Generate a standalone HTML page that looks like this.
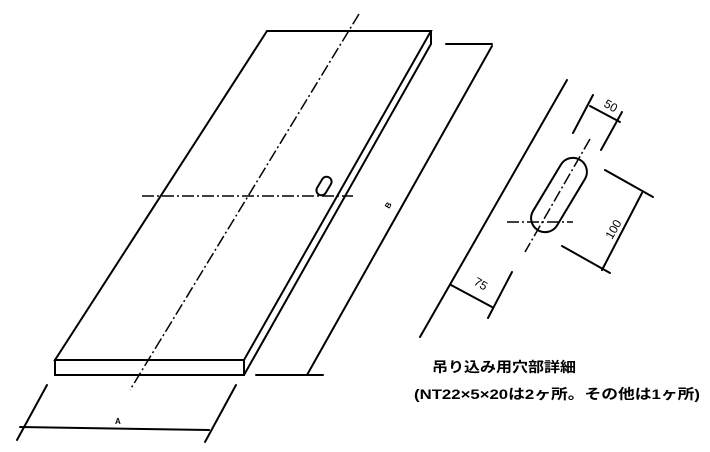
<!DOCTYPE html>
<html><head><meta charset="utf-8"><style>
html,body{margin:0;padding:0;background:#fff;width:710px;height:452px;overflow:hidden}
svg{display:block}
text{font-family:"Liberation Sans","Noto Sans CJK JP",sans-serif;fill:#000}
</style></head><body>
<svg width="710" height="452" viewBox="0 0 710 452" xmlns="http://www.w3.org/2000/svg">
<g stroke="#000" fill="none" stroke-width="2" stroke-linecap="round">
<!-- board -->
<polygon points="267,31 431,31 244,360 55,360"/>
<rect x="55" y="360" width="189" height="15"/>
<line x1="431" y1="31" x2="431" y2="44"/>
<line x1="431" y1="44" x2="244" y2="375"/>
<!-- B dimension -->
<line x1="446" y1="44" x2="492" y2="44"/>
<line x1="256" y1="375" x2="323" y2="375"/>
<line x1="492" y1="46" x2="307" y2="375"/>
<!-- A dimension -->
<line x1="47" y1="385" x2="17" y2="440"/>
<line x1="236" y1="385" x2="205" y2="442"/>
<line x1="20" y1="427" x2="209" y2="430"/>
<!-- small hole -->
<rect x="-5" y="-10" width="10" height="20" rx="5" transform="translate(324,186) rotate(31)"/>
<!-- right detail -->
<line x1="567" y1="80" x2="420" y2="337"/>
<rect x="-14" y="-41" width="28" height="82" rx="14" transform="translate(559,195) rotate(31)"/>
<line x1="593" y1="95" x2="573" y2="133"/>
<line x1="622" y1="112" x2="601" y2="150"/>
<line x1="590" y1="106" x2="620" y2="122"/>
<line x1="605" y1="170" x2="653" y2="197"/>
<line x1="562" y1="246" x2="610" y2="273"/>
<line x1="642" y1="193" x2="602" y2="270"/>
<line x1="512" y1="272" x2="488" y2="318"/>
<line x1="451" y1="285" x2="492" y2="307"/>
</g>
<g stroke="#000" fill="none" stroke-width="1.5" stroke-dasharray="12,3,2,3">
<line x1="359" y1="14" x2="130" y2="390"/>
<line x1="142" y1="196" x2="353" y2="196"/>
<line x1="590" y1="139" x2="525" y2="252"/>
<line x1="507" y1="222" x2="573" y2="222"/>
</g>
<text x="115" y="424" font-size="8" font-weight="bold">A</text>
<text x="385" y="208" font-size="8" font-weight="bold" transform="rotate(-60 388 205)">B</text>
<text x="0" y="0" font-size="12" transform="translate(603,106) rotate(30)">50</text>
<text x="0" y="0" font-size="12" transform="translate(612,240) rotate(-60)">100</text>
<text x="0" y="0" font-size="12" transform="translate(473,284) rotate(30)">75</text>
<text x="432" y="372" font-size="14" font-weight="bold" textLength="144" lengthAdjust="spacingAndGlyphs">吊り込み用穴部詳細</text>
<text x="414" y="399" font-size="14" font-weight="bold" textLength="286" lengthAdjust="spacingAndGlyphs">(NT22×5×20は2ヶ所。その他は1ヶ所)</text>
</svg>
</body></html>
